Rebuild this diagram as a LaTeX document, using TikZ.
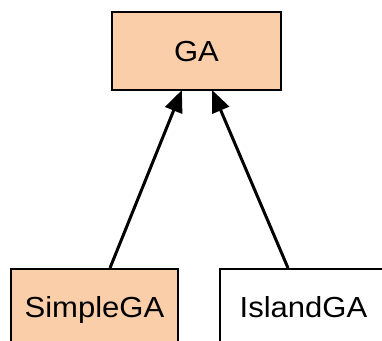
\documentclass[tikz,border=0pt]{standalone}
\usepackage{fontspec}
\setmainfont{Liberation Sans}
\newfontfamily\labelfont[FakeStretch=1.07]{Liberation Sans}
\usetikzlibrary{arrows.meta}
\definecolor{peach}{RGB}{250,206,168}
\tikzset{
  classbox/.style={draw=black, line width=2pt, inner sep=0pt,
    minimum width=167pt, minimum height=77pt,
    text height=20.5pt, text depth=0pt,
    font=\labelfont\fontsize{29}{31}\selectfont},
  inherit/.style={line width=3pt, -{Triangle[length=22pt,width=18pt]}, shorten >=-1pt},
}
\begin{document}
\begin{tikzpicture}[x=1pt, y=-1pt]
  \useasboundingbox (0,0) rectangle (382,340);
  \clip (0,0) rectangle (382,340);
  \fill[white] (0,0) rectangle (382,340);
  % base class and its two subclasses
  \node[classbox, fill=peach, minimum width=169pt, minimum height=78pt] (ga) at (196.5,51) {GA};
  \node[classbox, fill=peach] (simple) at (94.5,307.5) {SimpleGA};
  \node[classbox, fill=white] (island) at (303.5,307.5) {IslandGA};
  % generalisation arrows
  \draw[inherit] ([xshift=15.5pt]simple.north) -- ([xshift=-15pt]ga.south);
  \draw[inherit] ([xshift=-15.5pt]island.north) -- ([xshift=16pt]ga.south);
\end{tikzpicture}
\end{document}
